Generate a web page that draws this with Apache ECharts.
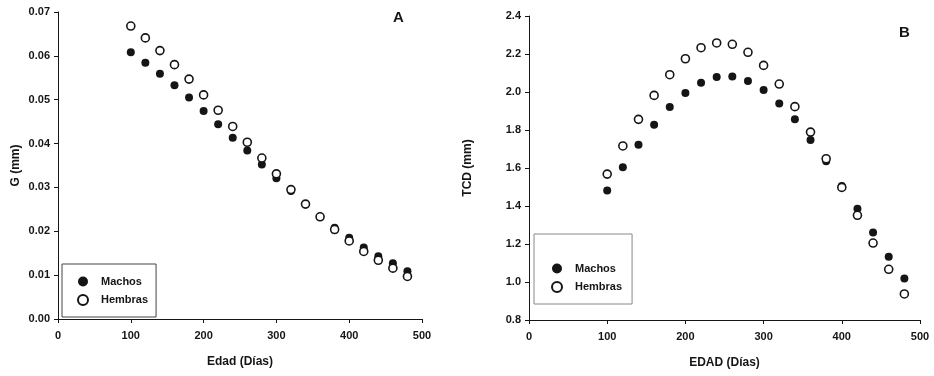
<!DOCTYPE html>
<html>
<head>
<meta charset="utf-8">
<script src="https://cdn.jsdelivr.net/npm/echarts@6/dist/echarts.min.js"></script>
<style>
    html, body {
        margin: 0;
        padding: 0;
        background: #fff;
    }
    #chart {
        width: 934px;
        height: 376px;
    }
</style>
</head>
<body>
<div id="chart"></div>
<script>
// datos
const edad = [100, 120, 140, 160, 180, 200, 220, 240, 260, 280, 300, 320, 340, 360, 380, 400, 420, 440, 460, 480]
const gMachos = [0.0608, 0.0584, 0.0559, 0.0533, 0.0505, 0.0474, 0.0444, 0.0413, 0.0384, 0.0352,
    0.0321, 0.0292, 0.0262, 0.0233, 0.0208, 0.0185, 0.0163, 0.0143, 0.0127, 0.0109]
const gHembras = [0.0668, 0.0641, 0.0612, 0.0580, 0.0547, 0.0511, 0.0476, 0.0439, 0.0403, 0.0367,
    0.0331, 0.0295, 0.0262, 0.0233, 0.0204, 0.0178, 0.0154, 0.0134, 0.0116, 0.0097]
const tcdMachos = [1.481, 1.604, 1.723, 1.828, 1.921, 1.995, 2.049, 2.079, 2.081, 2.058,
    2.011, 1.940, 1.856, 1.747, 1.635, 1.505, 1.386, 1.260, 1.133, 1.018]
const tcdHembras = [1.568, 1.716, 1.856, 1.982, 2.091, 2.175, 2.233, 2.258, 2.251, 2.209,
    2.140, 2.042, 1.923, 1.789, 1.649, 1.498, 1.351, 1.205, 1.067, 0.937]
const serieNames = ['Machos', 'Hembras']

const font = '"Liberation Sans", Arial, sans-serif'
const ink = '#151515'

const myChart = echarts.init(document.getElementById('chart'))

const makeX = (gridIndex, name) => ({
    type: 'value',
    gridIndex: gridIndex,
    min: 0,
    max: 500,
    interval: 100,
    name: name,
    nameLocation: 'middle',
    nameGap: 37,
    nameTextStyle: { fontFamily: font, fontWeight: 'bold', fontSize: 12, color: ink },
    axisLine: { show: true, lineStyle: { color: ink, width: 1 } },
    axisTick: { show: true, length: 4, lineStyle: { color: ink } },
    axisLabel: { margin: 11, fontFamily: font, fontWeight: 'bold', fontSize: 11, color: ink },
    splitLine: { show: false }
})

const makeY = (gridIndex, name, min, max, interval, digits, gap) => ({
    type: 'value',
    gridIndex: gridIndex,
    min: min,
    max: max,
    interval: interval,
    name: name,
    nameLocation: 'middle',
    nameGap: gap,
    nameTextStyle: { fontFamily: font, fontWeight: 'bold', fontSize: 12, color: ink },
    axisLine: { show: true, lineStyle: { color: ink, width: 1 } },
    axisTick: { show: true, length: 4, lineStyle: { color: ink } },
    axisLabel: {
        margin: 8,
        fontFamily: font,
        fontWeight: 'bold',
        fontSize: 11,
        color: ink,
        formatter: (v) => v.toFixed(digits)
    },
    splitLine: { show: false }
})

// relleno = machos, hueco = hembras
const filled = { color: ink, opacity: 1 }
const hollow = { color: '#fff', borderColor: ink, borderWidth: 1.6, opacity: 1 }

const makeSeries = (idx, name, values, style) => ({
    name: name,
    type: 'scatter',
    xAxisIndex: idx,
    yAxisIndex: idx,
    symbol: 'circle',
    symbolSize: 8,
    itemStyle: style,
    data: values.map((v, i) => [edad[i], v])
})

const makeLegend = (left, top, padding, borderColor) => ({
    data: serieNames,
    orient: 'vertical',
    left: left,
    top: top,
    padding: padding,
    itemGap: 7,
    itemWidth: 10,
    itemHeight: 10,
    borderColor: borderColor,
    borderWidth: 1,
    selectedMode: false,
    textStyle: {
        fontFamily: font,
        fontWeight: 'bold',
        fontSize: 11,
        color: ink,
        padding: [0, 0, 0, 8]
    }
})

myChart.setOption({
    animation: false,
    backgroundColor: '#fff',
    grid: [
        { left: 58, top: 12, right: 512, bottom: 57 },
        { left: 529, top: 16, right: 14, bottom: 56 }
    ],
    xAxis: [
        makeX(0, 'Edad (Días)'),
        makeX(1, 'EDAD (Días)')
    ],
    yAxis: [
        makeY(0, 'G (mm)', 0, 0.07, 0.01, 2, 36),
        makeY(1, 'TCD (mm)', 0.8, 2.4, 0.2, 1, 55)
    ],
    legend: [
        makeLegend(62, 264, [12, 8, 11, 15], '#444'),
        makeLegend(534, 234, [29, 10, 11, 17], '#888')
    ],
    graphic: [
        { type: 'text', left: 393, top: 10, style: { text: 'A', font: 'bold 15px ' + font, fill: ink } },
        { type: 'text', left: 899, top: 25, style: { text: 'B', font: 'bold 15px ' + font, fill: ink } }
    ],
    series: [
        makeSeries(0, 'Machos', gMachos, filled),
        makeSeries(0, 'Hembras', gHembras, hollow),
        makeSeries(1, 'Machos', tcdMachos, filled),
        makeSeries(1, 'Hembras', tcdHembras, hollow)
    ]
})

window.onresize = function () {
    myChart.resize()
}
</script>
</body>
</html>
